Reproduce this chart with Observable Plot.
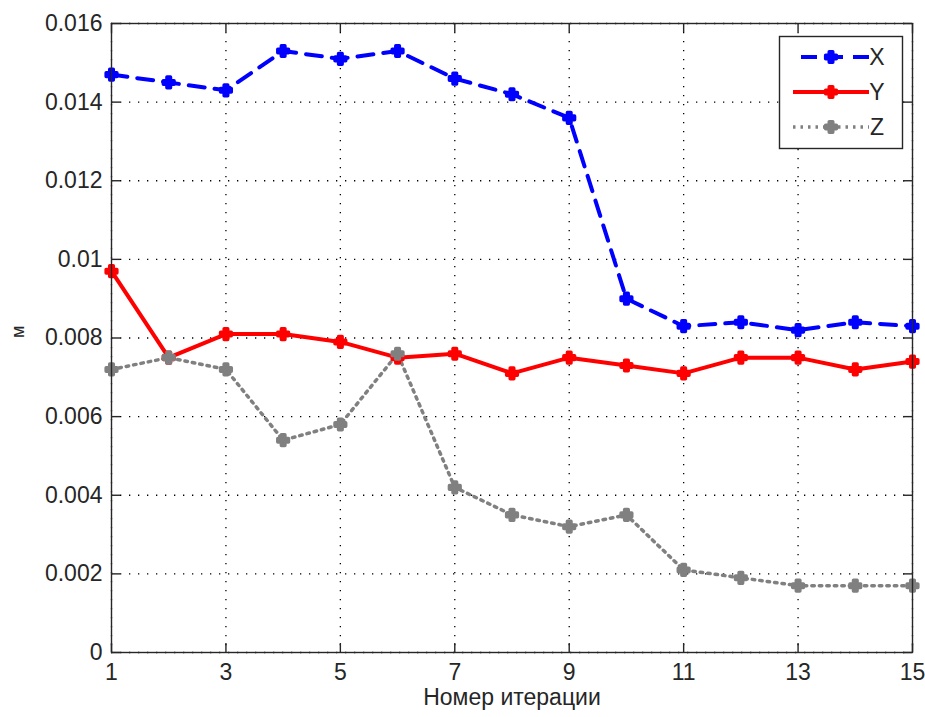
<!DOCTYPE html>
<html>
<head>
<meta charset="utf-8">
<script src="https://cdn.jsdelivr.net/npm/d3@7"></script>
<script src="https://cdn.jsdelivr.net/npm/@observablehq/plot@0.6"></script>
<style>
  html, body { margin: 0; padding: 0; background: #fff; }
  #chart { position: relative; width: 925px; height: 717px; }
</style>
</head>
<body>
<div id="chart"></div>
<script>
// ---- data ----
const iterations = [1, 2, 3, 4, 5, 6, 7, 8, 9, 10, 11, 12, 13, 14, 15];
const seriesNames = ["X", "Y", "Z"];
const xValues = [0.0147, 0.0145, 0.0143, 0.0153, 0.0151, 0.0153, 0.0146, 0.0142, 0.0136, 0.0090, 0.0083, 0.0084, 0.0082, 0.0084, 0.0083];
const yValues = [0.0097, 0.0075, 0.0081, 0.0081, 0.0079, 0.0075, 0.0076, 0.0071, 0.0075, 0.0073, 0.0071, 0.0075, 0.0075, 0.0072, 0.0074];
const zValues = [0.0072, 0.0075, 0.0072, 0.0054, 0.0058, 0.0076, 0.0042, 0.0035, 0.0032, 0.0035, 0.0021, 0.0019, 0.0017, 0.0017, 0.0017];
const xTicks = [1, 3, 5, 7, 9, 11, 13, 15];
const xTickLabels = ["1", "3", "5", "7", "9", "11", "13", "15"];
const yTicks = [0, 0.002, 0.004, 0.006, 0.008, 0.01, 0.012, 0.014, 0.016];
const yTickLabels = ["0", "0.002", "0.004", "0.006", "0.008", "0.01", "0.012", "0.014", "0.016"];
const xLabel = "Номер итерации";
const yLabel = "м";

// ---- styles ----
const colors = {X: "#0000ff", Y: "#ff0000", Z: "#808080"};
const dashes = {X: "16,10", Y: null, Z: "2.5,5"};
const widths = {X: 4, Y: 4, Z: 3.5};

const valuesBySeries = {X: xValues, Y: yValues, Z: zValues};
const data = seriesNames.flatMap(s => iterations.map((it, j) => ({series: s, iter: it, value: valuesBySeries[s][j]})));

const W = 925, H = 717;
const mL = 111, mR = 13, mT = 23, mB = 65;
const innerW = W - mL - mR, innerH = H - mT - mB;
const tickLen = 9;
const textColor = "#262626";
const font = "Liberation Sans, Arial, Helvetica, sans-serif";
const markerR = 4.5, markerStroke = 3.5;

const marks = [
  // grid
  Plot.ruleX(xTicks, {x: d => d, stroke: "#000", strokeWidth: 1.3, strokeDasharray: "1.3,7.7"}),
  Plot.ruleY(yTicks, {y: d => d, stroke: "#000", strokeWidth: 1.3, strokeDasharray: "1.3,7.7"}),
];
for (const s of seriesNames) {
  const d = data.filter(r => r.series === s);
  marks.push(Plot.line(d, {x: "iter", y: "value", stroke: colors[s], strokeWidth: widths[s],
    strokeDasharray: dashes[s], strokeLinejoin: "round"}));
}
for (const s of seriesNames) {
  const d = data.filter(r => r.series === s);
  marks.push(Plot.dot(d, {x: "iter", y: "value", symbol: "cross", r: markerR, fill: colors[s],
    stroke: colors[s], strokeWidth: markerStroke, strokeLinejoin: "round"}));
}
marks.push(
  Plot.frame({stroke: textColor, strokeWidth: 1.4}),
  // inward ticks on all sides
  Plot.tickX(xTicks, {x: d => d, insetTop: innerH - tickLen, stroke: textColor, strokeWidth: 1.4}),
  Plot.tickX(xTicks, {x: d => d, insetBottom: innerH - tickLen, stroke: textColor, strokeWidth: 1.4}),
  Plot.tickY(yTicks, {y: d => d, insetRight: innerW - tickLen, stroke: textColor, strokeWidth: 1.4}),
  Plot.tickY(yTicks, {y: d => d, insetLeft: innerW - tickLen, stroke: textColor, strokeWidth: 1.4}),
  Plot.axisX({ticks: xTicks, tickFormat: d => xTickLabels[xTicks.indexOf(d)], tickSize: 0, tickPadding: 11,
    label: null, fontSize: 23, fill: textColor}),
  Plot.axisY({ticks: yTicks, tickFormat: d => yTickLabels[yTicks.indexOf(d)], tickSize: 0, tickPadding: 9,
    label: null, fontSize: 23, fill: textColor}),
  Plot.text([xLabel], {text: d => d, frameAnchor: "bottom", dy: 52, fontSize: 23, fill: textColor}),
  Plot.text([yLabel], {text: d => d, frameAnchor: "left", dx: -93, rotate: -90, fontSize: 18, fill: textColor})
);

const svg = Plot.plot({
  width: W, height: H,
  marginLeft: mL, marginRight: mR, marginTop: mT, marginBottom: mB,
  x: {domain: [1, 15]},
  y: {domain: [0, 0.016]},
  style: {fontFamily: font, fontSize: "23px", background: "#fff", color: textColor},
  marks
});

// ---- legend (drawn in the same svg) ----
const sel = d3.select(svg);
const lg = sel.append("g");
lg.append("rect").attr("x", 779.5).attr("y", 36.5).attr("width", 123).attr("height", 112)
  .attr("fill", "#fff").attr("stroke", textColor).attr("stroke-width", 1.4);
const rowY = [57, 92, 127];
const lineStart = {X: 801, Y: 793, Z: 793};
seriesNames.forEach((s, i) => {
  const y = rowY[i];
  lg.append("line").attr("x1", lineStart[s]).attr("x2", 869).attr("y1", y).attr("y2", y)
    .attr("stroke", colors[s]).attr("stroke-width", widths[s])
    .attr("stroke-dasharray", dashes[s]);
  lg.append("path").attr("transform", `translate(831,${y})`)
    .attr("d", d3.symbol(d3.symbolCross, Math.PI * markerR * markerR)())
    .attr("fill", colors[s]).attr("stroke", colors[s]).attr("stroke-width", markerStroke).attr("stroke-linejoin", "round");
  lg.append("text").attr("x", 877).attr("y", y).attr("dy", "0.36em")
    .attr("font-size", 23).attr("font-family", font).attr("fill", textColor).text(s);
});

document.getElementById("chart").appendChild(svg);
</script>
</body>
</html>
